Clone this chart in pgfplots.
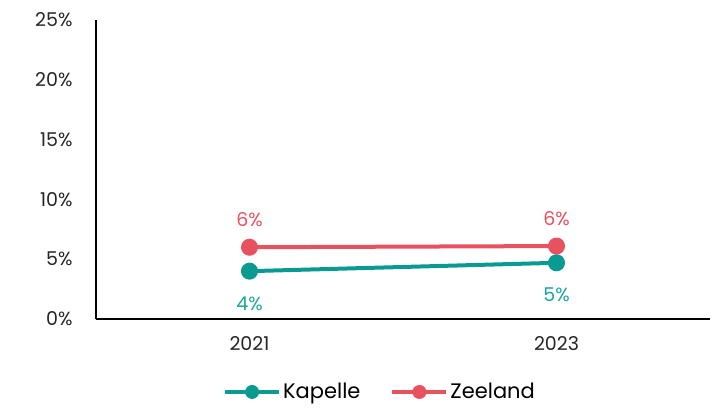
\documentclass[border=0pt]{standalone}
\usepackage{fontspec}
\setmainfont{Poppins}
\usepackage{pgfplots}
\pgfplotsset{compat=1.18}
\definecolor{teal1}{HTML}{0A9A92}
\definecolor{red1}{HTML}{E8525F}
\definecolor{teallab}{HTML}{1AA5A0}
\begin{document}
\begin{tikzpicture}[x=1bp,y=1bp]
\useasboundingbox (-96bp,-89bp) rectangle (619bp,319bp);
\begin{axis}[
  at={(0,0)}, anchor=south west,
  scale only axis, width=614bp, height=299bp,
  xmin=-0.5, xmax=1.5, ymin=0, ymax=25,
  xtick={0,1}, xticklabels={2021,2023},
  ytick={0,5,10,15,20,25},
  yticklabel={\pgfmathprintnumber{\tick}\%},
  /pgf/number format/assume math mode=true,
  axis lines=left,
  axis line style={line width=1.5bp, -},
  major tick length=0pt,
  tick label style={font=\fontsize{19bp}{21bp}\selectfont, text=black!85},
  yticklabel style={xshift=-20bp},
  xticklabel style={yshift=-14bp},
  clip=false,
  legend style={at={(0.4625,-0.244)}, anchor=center, draw=none, fill=none,
    font=\fontsize{21bp}{23bp}\selectfont, legend columns=2,
    /tikz/every even column/.append style={column sep=28bp}},
  legend image code/.code={
    \draw[#1, line width=4bp] (0bp,0bp) -- (54bp,0bp);
    \fill[#1, draw=none] (27bp,0bp) circle (7bp);
  },
]
\addplot[teal1, line width=4bp, mark=*, mark size=6.5bp, mark options={draw=teal1, fill=teal1},
  nodes near coords={\pgfmathprintnumber[fixed,precision=0]{\pgfplotspointmeta}\%},
  every node near coord/.append style={below, yshift=-20bp, text=teallab, font=\fontsize{19bp}{21bp}\selectfont}]
  coordinates {(0,4.0) (1,4.7)};
\addlegendentry{Kapelle}
\addplot[red1, line width=4bp, mark=*, mark size=6.5bp, mark options={draw=red1, fill=red1},
  nodes near coords={\pgfmathprintnumber[fixed,precision=0]{\pgfplotspointmeta}\%},
  every node near coord/.append style={above, yshift=15bp, text=red1, font=\fontsize{19bp}{21bp}\selectfont}]
  coordinates {(0,6.0) (1,6.1)};
\addlegendentry{Zeeland}
\end{axis}
\end{tikzpicture}
\end{document}
